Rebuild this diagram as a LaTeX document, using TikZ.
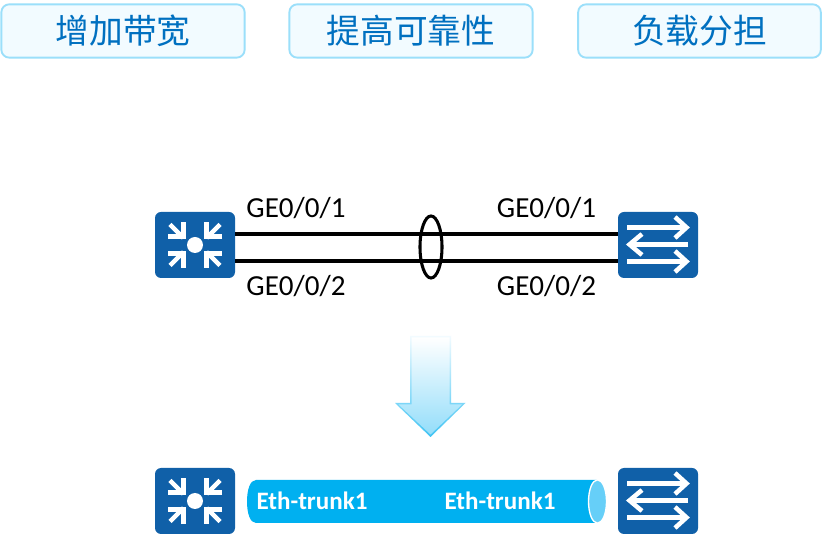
\documentclass[tikz,border=0pt]{standalone}
\usepackage{fontspec}
\setmainfont{Carlito}
\newfontfamily\cjkfont{Noto Sans CJK SC}
\usetikzlibrary{shapes.geometric}
\definecolor{iconblue}{HTML}{1060A8}
\definecolor{boxfill}{HTML}{F2FBFF}
\definecolor{boxline}{HTML}{9BDFFA}
\definecolor{boxtext}{HTML}{0070C0}
\definecolor{pipeblue}{HTML}{00B0F0}
\definecolor{pipeend}{HTML}{66CFF8}
\tikzset{
  x=0.75pt,y=-0.75pt,
  titlebox/.style={draw=boxline,line width=1.4pt,fill=boxfill,rounded corners=6pt,minimum height=40pt,inner sep=0pt,text=boxtext,font=\cjkfont\fontsize{25.3pt}{28pt}\selectfont},
  device/.style={fill=iconblue,rounded corners=4.5pt,minimum width=60pt,minimum height=49.5pt,inner sep=0pt},
  link/.style={line width=2.3pt,black},
  port/.style={font=\fontsize{21.8pt}{24pt}\selectfont,inner sep=0pt,text=black},
  trunk/.style={font=\bfseries\fontsize{18.8pt}{20pt}\selectfont,inner sep=0pt,text=white},
  glyph/.style={draw=white,line width=3.4pt,line cap=butt,line join=miter},
  routerglyph/.pic={
    \fill[white] (0,0) circle (8);
    \foreach \sx/\sy in {-1/-1,1/-1,-1/1,1/1}{
      \draw[glyph] (\sx*25,\sy*20.5) -- (\sx*11.5,\sy*7);
      \draw[glyph] (\sx*27,\sy*8.5) -- (\sx*11.5,\sy*8.5) -- (\sx*11.5,\sy*23);
    }
  },
  switchglyph/.pic={
    \draw[glyph] (-31,-17.5) -- (28,-17.5);
    \draw[glyph] (17,-28) -- (28.5,-17.5) -- (17,-7);
    \draw[glyph] (30,-0.5) -- (-28,-0.5);
    \draw[glyph] (-16,-11) -- (-28.5,-0.5) -- (-16,10);
    \draw[glyph] (-31,16.5) -- (28,16.5);
    \draw[glyph] (17,6) -- (28.5,16.5) -- (17,27);
  }
}
\begin{document}
\begin{tikzpicture}
\useasboundingbox (0,0) rectangle (822,534);
\fill[white] (0,0) rectangle (822,534);
% title boxes
\node[titlebox,minimum width=182.5pt] (t1) at (123,31) {增加带宽};
\node[titlebox,minimum width=182.5pt] (t2) at (411,31) {提高可靠性};
\node[titlebox,minimum width=182pt] (t3) at (699.5,31) {负载分担};
% top devices
\node[device] (r1) at (195,245) {};
\node[device] (s1) at (658,245) {};
\pic at (r1.center) {routerglyph};
\pic at (s1.center) {switchglyph};
% links
\draw[link] ([yshift=8.25pt]r1.east) -- ([yshift=8.25pt]s1.west);
\draw[link] ([yshift=-12pt]r1.east) -- ([yshift=-12pt]s1.west);
\node[ellipse,draw=black,line width=2.3pt,minimum width=16.5pt,minimum height=46.5pt,inner sep=0pt] (bundle) at (431,247) {};
% ports
\node[port] (p1) at (296,208) {GE0/0/1};
\node[port] (p2) at (546.5,208) {GE0/0/1};
\node[port] (p3) at (296,286) {GE0/0/2};
\node[port] (p4) at (546.5,286) {GE0/0/2};
% down arrow
\path[top color=boxfill,bottom color=pipeblue!75!white]
  (410,336) -- (451,336) -- (451,403) -- (465.5,403) -- (430.5,437) -- (395,403) -- (410,403) -- cycle;
\path[top color=white,middle color=white!85!pipeend,bottom color=pipeend!70!white]
  (411.5,337.5) -- (449.5,337.5) -- (449.5,404.5) -- (462,404.5) -- (430.5,434.5) -- (398.5,404.5) -- (411.5,404.5) -- cycle;
% bottom devices
\node[device] (r2) at (195,501) {};
\node[device] (s2) at (658,501) {};
\pic at (r2.center) {routerglyph};
\pic at (s2.center) {switchglyph};
% trunk
\fill[pipeblue] (597,480) -- (256,480) .. controls (250,480) and (247,490) .. (247,501.5) .. controls (247,513) and (250,523) .. (256,523) -- (597,523) -- cycle;
\node[ellipse,draw=white,line width=1pt,fill=pipeend,minimum width=13.5pt,minimum height=32.5pt,inner sep=0pt] (pipeend) at (597.5,501.5) {};
\node[trunk] (l1) at (312,501) {Eth-trunk1};
\node[trunk] (l2) at (500,501) {Eth-trunk1};
\end{tikzpicture}
\end{document}
